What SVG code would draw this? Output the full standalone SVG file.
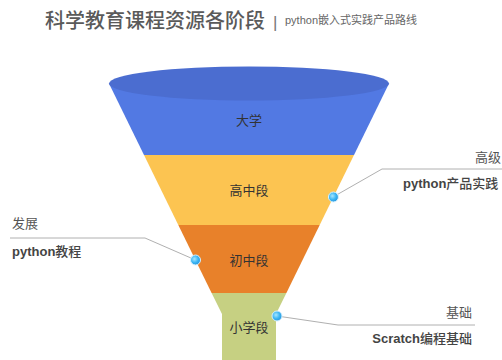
<svg xmlns="http://www.w3.org/2000/svg" width="502" height="360" viewBox="0 0 502 360">
  <defs>
    <radialGradient id="dotGrad" cx="0.4" cy="0.4" r="0.6">
      <stop offset="0" stop-color="#a6e6ff"/>
      <stop offset="0.6" stop-color="#3cb6f4"/>
      <stop offset="1" stop-color="#2a98de"/>
    </radialGradient>
    <style>
      .title { font-family: "Noto Sans CJK SC", "Liberation Sans", sans-serif; font-size: 20px; fill: #5a5a5a; font-weight: 500; }
      .sub { font-family: "Liberation Sans", "Noto Sans CJK SC", sans-serif; font-size: 11px; fill: #666666; }
      .lvl { font-family: "Noto Sans CJK SC", sans-serif; font-size: 13px; fill: #333333; text-anchor: middle; }
      .cap { font-family: "Noto Sans CJK SC", sans-serif; font-size: 13px; fill: #555555; }
      .big { font-family: "Liberation Sans", "Noto Sans CJK SC", sans-serif; font-size: 13px; font-weight: bold; fill: #444444; }
      .cjk { font-family: "Noto Sans CJK SC", sans-serif; font-weight: 500; fill: #444444; }
      .conn { fill: none; stroke: #b0b0b0; stroke-width: 1; }
      .dot { fill: url(#dotGrad); stroke: #d6f1ff; stroke-width: 1; }
    </style>
  </defs>

  <rect x="0" y="0" width="502" height="360" fill="#ffffff"/>

  <g id="title">
    <text class="title" x="45" y="27.5">科学教育课程资源各阶段</text>
    <text class="sub" x="273" y="28" style="font-size:17px;fill:#777">|</text>
    <text class="sub" x="285" y="24">python嵌入式实践产品路线</text>
  </g>

  <g id="stage-university">
    <polygon points="109,83.5 389,83.5 354,155 144,155" fill="#5279e3"/>
    <ellipse cx="249" cy="83.5" rx="140" ry="17" fill="#4b6dd0"/>
    <text class="lvl" x="249" y="125">大学</text>
  </g>

  <g id="stage-high">
    <polygon points="144,155 354,155 319.7,225 178.3,225" fill="#fcc451"/>
    <text class="lvl" x="249" y="195">高中段</text>
  </g>

  <g id="stage-middle">
    <polygon points="178.3,225 319.7,225 286.4,293 211.6,293" fill="#e8812a"/>
    <text class="lvl" x="249" y="265">初中段</text>
  </g>

  <g id="stage-primary">
    <polygon points="211.6,293 286.4,293 276,314 276,360 222,360 222,314" fill="#c6d082"/>
    <text class="lvl" x="249" y="332">小学段</text>
  </g>

  <g id="connectors">
    <polyline class="conn" points="333,197 382,169 502,169"/>
    <polyline class="conn" points="195.5,260 145,238 10,238"/>
    <polyline class="conn" points="277,316 338,325 475,325"/>
  </g>

  <g id="dots">
    <circle class="dot" cx="333.4" cy="197" r="5"/>
    <circle class="dot" cx="195.5" cy="260" r="5"/>
    <circle class="dot" cx="277" cy="316" r="5"/>
  </g>

  <g id="label-advanced">
    <text class="cap" x="501" y="162" text-anchor="end">高级</text>
    <text class="big" x="403" y="188">python<tspan class="cjk">产品实践</tspan></text>
  </g>

  <g id="label-develop">
    <text class="cap" x="12" y="228">发展</text>
    <text class="big" x="12" y="256">python<tspan class="cjk">教程</tspan></text>
  </g>

  <g id="label-basic">
    <text class="cap" x="472" y="317" text-anchor="end">基础</text>
    <text class="big" x="472" y="343" text-anchor="end">Scratch<tspan class="cjk">编程基础</tspan></text>
  </g>
</svg>
